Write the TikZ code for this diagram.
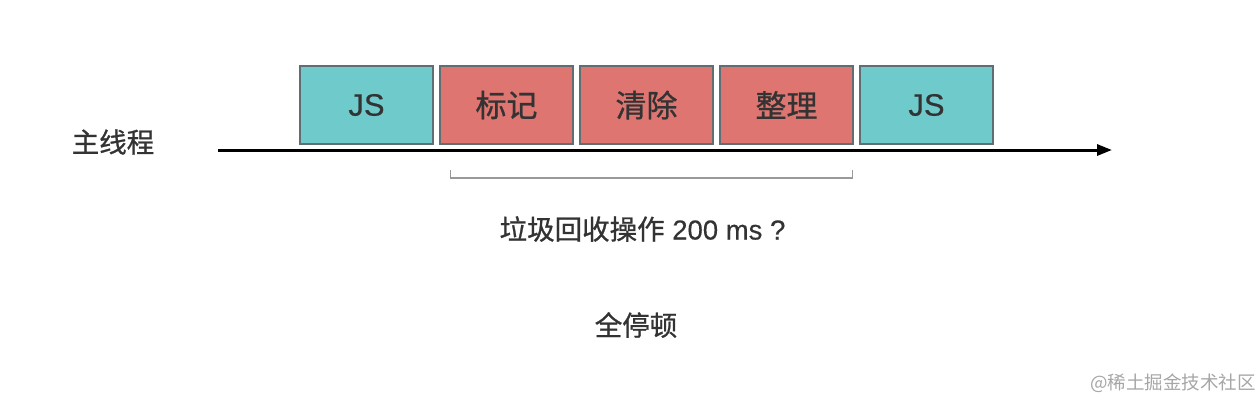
\documentclass[tikz,border=0pt]{standalone}
\usepackage{fontspec}
\setmainfont{Liberation Sans}[FakeBold=0.4]
\newfontfamily\cjk{Noto Sans CJK SC}[FakeBold=0.9]
\newfontfamily\cjklight{Noto Sans CJK SC}
\usetikzlibrary{arrows.meta}
\definecolor{jscol}{HTML}{6FCACB}
\definecolor{gccol}{HTML}{DE7570}
\definecolor{bordcol}{HTML}{5E6E72}
\definecolor{txtcol}{HTML}{333333}
\begin{document}
\begin{tikzpicture}[x=1pt,y=-1pt,
  blk/.style={draw=bordcol,line width=1.2pt,minimum width=133pt,minimum height=78pt,inner sep=0pt,text=txtcol,font=\fontsize{31}{31}\selectfont},
  jsblk/.style={blk,fill=jscol},
  gcblk/.style={blk,fill=gccol},
  lbl/.style={text=txtcol,font=\fontsize{27.5}{27.5}\selectfont,inner sep=0pt}]
\useasboundingbox (0,0) rectangle (1260,400);
\node[jsblk] (js1) at (366.5,105) {JS};
\node[gcblk] (mark) at (506.5,105) {\cjk 标记};
\node[gcblk] (sweep) at (646.5,105) {\cjk 清除};
\node[gcblk] (compact) at (786.5,105) {\cjk 整理};
\node[jsblk] (js2) at (926.5,105) {JS};
\coordinate (astart) at (218,150);
\coordinate (aend) at (1112,150);
\draw[line width=3pt,-{Triangle[length=15pt,width=11pt]}] (astart) -- (aend);
\node[lbl] (main) at (113,142) {\cjk 主线程};
\coordinate (bl) at (450.5,170);
\coordinate (br) at (852.5,170);
\draw[draw=gray!80,line width=1.2pt] (bl) -- ++(0,8) -| (br);
\node[lbl] (gc) at (642.5,229) {{\cjk 垃圾回收操作} 200 ms ?};
\node[lbl] (stw) at (636,325) {\cjk 全停顿};
\node[text=gray!70,font=\cjklight\fontsize{18.5}{18.5}\selectfont,inner sep=0pt] (wm) at (1173,383) {@稀土掘金技术社区};
\end{tikzpicture}
\end{document}
